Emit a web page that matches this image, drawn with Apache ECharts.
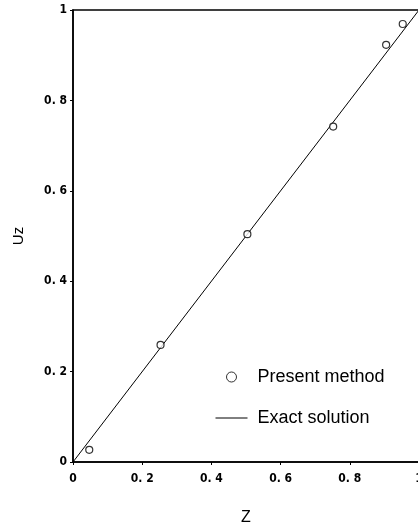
<!DOCTYPE html>
<html>
<head>
<meta charset="utf-8">
<script src="https://cdn.jsdelivr.net/npm/echarts@6/dist/echarts.min.js"></script>
<style>html,body{margin:0;padding:0;background:#fff}#c{width:418px;height:528px}</style>
</head>
<body>
<div id="c"></div>
<script>
var presentZ = [0.047, 0.253, 0.504, 0.752, 0.905, 0.953];
var presentUz = [0.027, 0.259, 0.504, 0.742, 0.923, 0.969];
var exactZ = [0, 1];
var exactUz = [0, 1];
var tickValues = [0, 0.2, 0.4, 0.6, 0.8, 1];

function fmt(v) {
  if (Math.abs(v) < 1e-9) return '0';
  if (Math.abs(v - 1) < 1e-9) return '1';
  return '0. ' + Math.round(v * 10);
}

var presentData = presentZ.map(function (z, i) { return [z, presentUz[i]]; });
var exactData = exactZ.map(function (z, i) { return [z, exactUz[i]]; });

var labelStyle = { color: '#000', fontFamily: 'DejaVu Sans Condensed, Liberation Sans, sans-serif', fontSize: 12, fontWeight: 'bold' };

function mkX(primary) {
  return {
    type: 'value', min: 0, max: 1, interval: 0.2,
    name: primary ? 'Z' : '', nameLocation: 'middle', nameGap: 48,
    nameTextStyle: { color: '#000', fontSize: 16, fontFamily: 'Liberation Sans, sans-serif' },
    axisLine: { show: primary, lineStyle: { color: '#000', width: 1.5 } },
    axisTick: { show: true, inside: !primary, length: 3, lineStyle: { color: '#000', width: 1 } },
    axisLabel: Object.assign({ show: primary, formatter: fmt, margin: 11 }, labelStyle),
    splitLine: { show: false }
  };
}
function mkY(primary) {
  return {
    type: 'value', min: 0, max: 1, interval: 0.2,
    name: primary ? 'Uz' : '', nameLocation: 'middle', nameGap: 47, nameRotate: 90,
    nameTextStyle: { color: '#000', fontSize: 15, fontFamily: 'Liberation Sans, sans-serif' },
    axisLine: { show: primary, lineStyle: { color: '#000', width: 1.5 } },
    axisTick: { show: true, inside: !primary, length: 3, lineStyle: { color: '#000', width: 1 } },
    axisLabel: Object.assign({ show: primary, formatter: fmt, margin: 6 }, labelStyle),
    splitLine: { show: false }
  };
}

var chart = echarts.init(document.getElementById('c'), null, { renderer: 'canvas' });
chart.setOption({
  animation: false,
  backgroundColor: '#fff',
  grid: { left: 73, top: 10, right: -1, bottom: 66, outerBoundsMode: 'none', containLabel: false, show: true, borderColor: '#000', borderWidth: 1.5, backgroundColor: 'transparent' },
  xAxis: [mkX(true), mkX(false)],
  yAxis: [mkY(true), mkY(false)],
  legend: {
    orient: 'vertical', left: 215, top: 368, padding: 0, itemWidth: 32, itemHeight: 10, itemGap: 23,
    textStyle: { color: '#000', fontSize: 18, fontFamily: 'Liberation Sans, sans-serif', padding: [0, 0, 0, 5] },
    data: [
      { name: 'Present method', icon: 'circle', itemStyle: { color: '#fff', borderColor: '#000', borderWidth: 1 } },
      { name: 'Exact solution', itemStyle: { color: 'transparent', borderColor: 'transparent', opacity: 0 }, lineStyle: { color: '#000', width: 1 } }
    ]
  },
  series: [
    {
      name: 'Exact solution', type: 'line', data: exactData, showSymbol: false, symbol: 'none',
      lineStyle: { color: '#000', width: 1 }, itemStyle: { color: '#000' }, z: 2
    },
    {
      name: 'Present method', type: 'scatter', data: presentData, symbol: 'circle', symbolSize: 7,
      itemStyle: { color: '#fff', borderColor: '#000', borderWidth: 1.2 }, z: 3
    }
  ]
});
</script>
</body>
</html>
